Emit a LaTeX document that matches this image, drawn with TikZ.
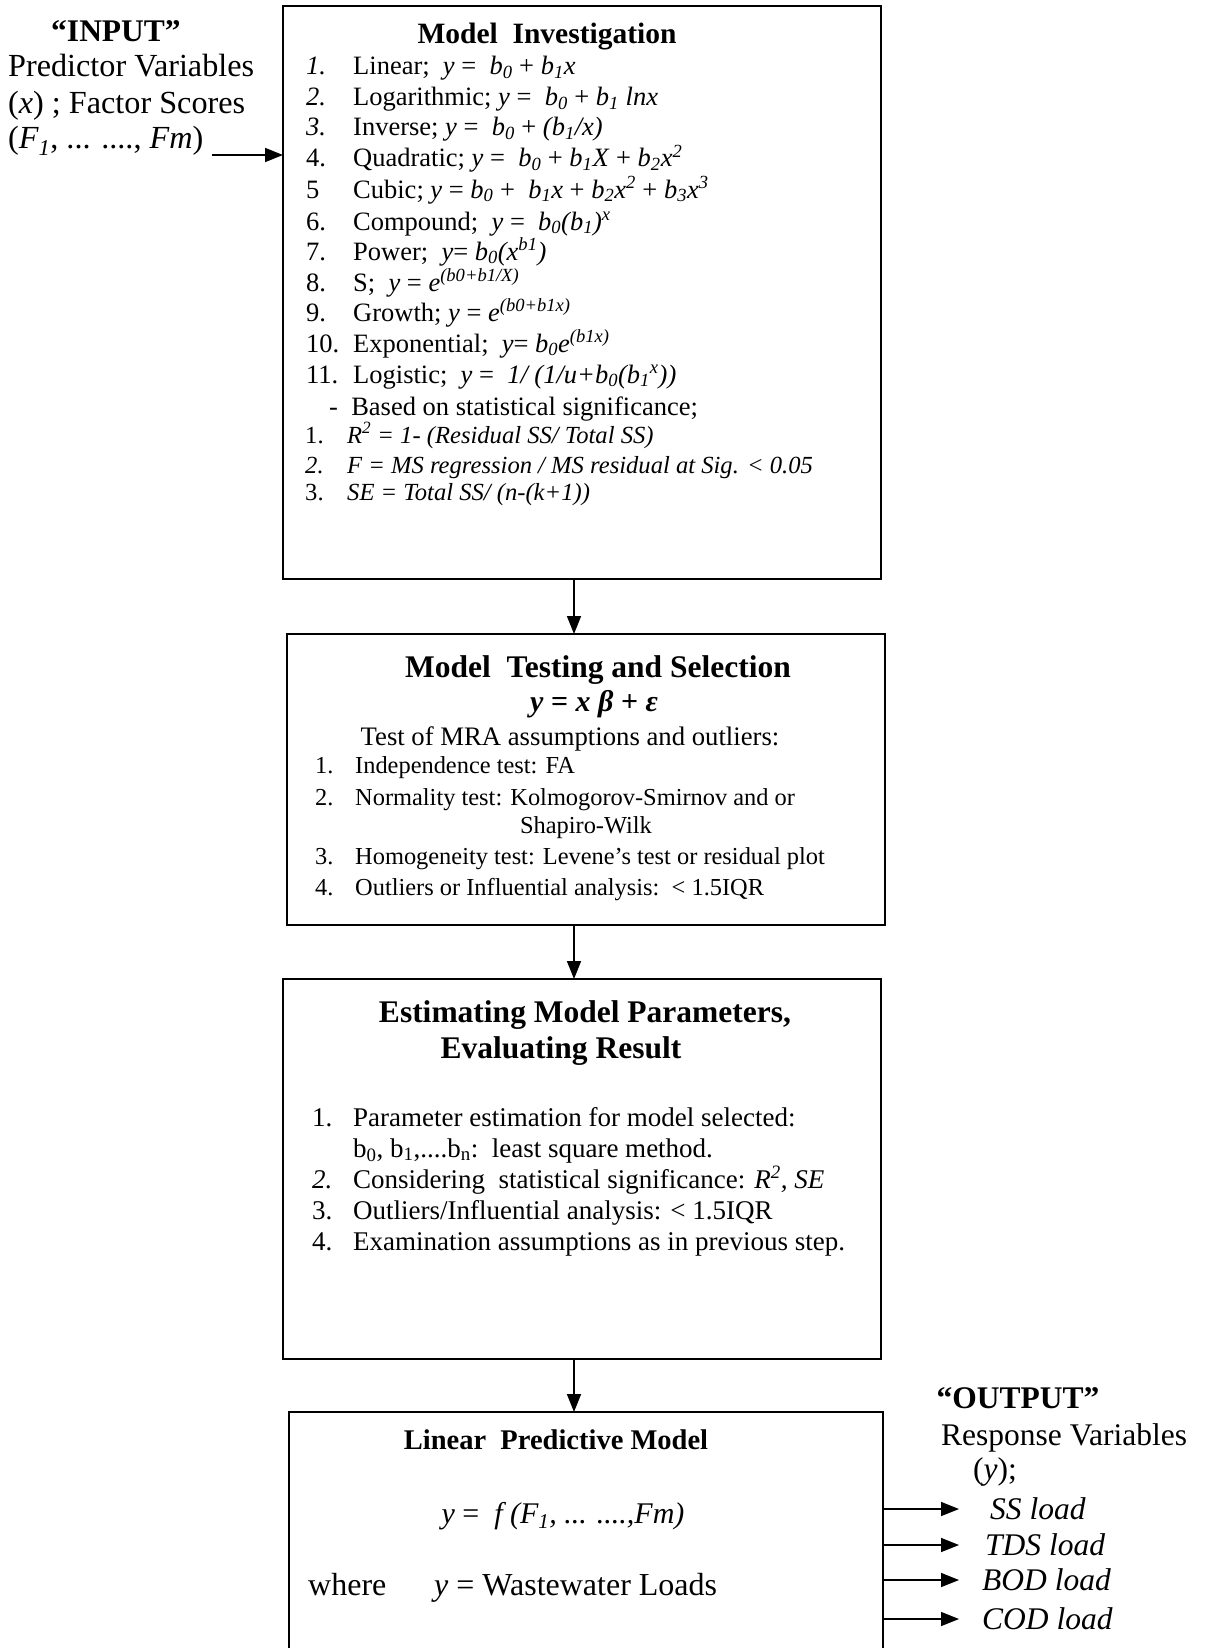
\documentclass[tikz,border=0pt]{standalone}
\usepackage{fontspec}
\setmainfont{Liberation Serif}
\usetikzlibrary{arrows.meta}
\newcommand{\sbs}[1]{\textsubscript{#1}}
\newcommand{\sps}[1]{\textsuperscript{#1}}
\begin{document}
\begin{tikzpicture}[x=1pt,y=-1pt,
  box/.style={draw, line width=1.6pt, anchor=north west, inner sep=0pt, outer sep=0pt},
  arr/.style={line width=1.6pt, -{Triangle[length=18pt,width=14pt]}},
  tl/.style={anchor=base west, inner sep=0pt},
  tc/.style={anchor=base, inner sep=0pt},
  fTa/.style={font=\fontsize{29.5}{32}\selectfont\bfseries},
  fTb/.style={font=\fontsize{31.5}{34}\selectfont\bfseries},
  fA/.style={font=\fontsize{26.5}{30}\selectfont},
  fS/.style={font=\fontsize{24.6}{28}\selectfont},
  fB/.style={font=\fontsize{24.4}{28}\selectfont},
  fB2/.style={font=\fontsize{26.7}{30}\selectfont},
  fC/.style={font=\fontsize{27}{30}\selectfont},
  fD/.style={font=\fontsize{30}{34}\selectfont},
  fW/.style={font=\fontsize{32}{34}\selectfont},
  fL/.style={font=\fontsize{31.5}{36}\selectfont},
  fI/.style={font=\fontsize{32.2}{36}\selectfont},
]
\useasboundingbox (0,0) rectangle (1206,1648);
\clip (0,0) rectangle (1206,1648);

% boxes
\node[box, minimum width=598pt, minimum height=573pt] (b1) at (283,6) {};
\node[box, minimum width=598pt, minimum height=291pt] (b2) at (287,634) {};
\node[box, minimum width=598pt, minimum height=380pt] (b3) at (283,979) {};
\node[box, minimum width=594pt, minimum height=320pt] (b4) at (289,1412) {};

% vertical arrows
\coordinate (ax) at (574,0);
\draw[arr] (b1.south -| ax) -- (b2.north -| ax);
\draw[arr] (b2.south -| ax) -- (b3.north -| ax);
\draw[arr] (b3.south -| ax) -- (b4.north -| ax);

% input
\node[tc, font=\fontsize{31.5}{36}\selectfont\bfseries] (inT) at (116,42) {“INPUT”};
\node[tl, fI] (in1) at (8,77) {Predictor Variables};
\node[tl, fI] (in2) at (8,114) {(\textit{x}) ; Factor Scores};
\node[tl, fI] (in3) at (8,149) {(\textit{F\sbs{1}}, ... ...., \textit{Fm})};
\coordinate (inA) at (212,155);
\draw[arr] (inA) -- (inA -| b1.west);

% box 1
\node[tc, fTa] (t1) at (547,44) {Model\ \ Investigation};
\node[tl, fA] (n1) at (306,75) {\textit{1.}};
\node[tl, fA] (l1) at (353,75) {Linear;\ \ \textit{y} =\ \ \textit{b\sbs{0}} + \textit{b\sbs{1}x}};
\node[tl, fA] (n2) at (306,106) {\textit{2.}};
\node[tl, fA] (l2) at (353,106) {Logarithmic; \textit{y} =\ \ \textit{b\sbs{0}} + \textit{b\sbs{1} lnx}};
\node[tl, fA] (n3) at (306,136) {\textit{3.}};
\node[tl, fA] (l3) at (353,136) {Inverse; \textit{y} =\ \ \textit{b\sbs{0}} + \textit{(b\sbs{1}/x)}};
\node[tl, fA] (n4) at (306,167) {4.};
\node[tl, fA] (l4) at (353,167) {Quadratic; \textit{y} =\ \ \textit{b\sbs{0}} + \textit{b\sbs{1}X} + \textit{b\sbs{2}x\sps{2}}};
\node[tl, fA] (n5) at (306,198) {5};
\node[tl, fA] (l5) at (353,198) {Cubic; \textit{y} = \textit{b\sbs{0}} +\ \ \textit{b\sbs{1}x} + \textit{b\sbs{2}x\sps{2}} + \textit{b\sbs{3}x\sps{3}}};
\node[tl, fA] (n6) at (306,230) {6.};
\node[tl, fA] (l6) at (353,230) {Compound;\ \ \textit{y} =\ \ \textit{b\sbs{0}(b\sbs{1})\sps{x}}};
\node[tl, fA] (n7) at (306,260) {7.};
\node[tl, fA] (l7) at (353,260) {Power;\ \ \textit{y}= \textit{b\sbs{0}(x\sps{b1})}};
\node[tl, fA] (n8) at (306,291) {8.};
\node[tl, fA] (l8) at (353,291) {S;\ \ \textit{y} = \textit{e\sps{(b0+b1/X)}}};
\node[tl, fA] (n9) at (306,321) {9.};
\node[tl, fA] (l9) at (353,321) {Growth; \textit{y} = \textit{e\sps{(b0+b1x)}}};
\node[tl, fA] (n10) at (306,352) {10.};
\node[tl, fA] (l10) at (353,352) {Exponential;\ \ \textit{y}= \textit{b\sbs{0}e\sps{(b1x)}}};
\node[tl, fA] (n11) at (306,383) {11.};
\node[tl, fA] (l11) at (353,383) {Logistic;\ \ \textit{y} =\ \ \textit{1/ (1/u+b\sbs{0}(b\sbs{1}\sps{x}))}};
\node[tl, fA] (bd) at (329,415) {-\ \ Based on statistical significance;};
\node[tl, fS] (s1n) at (305,443) {1.};
\node[tl, fS] (s1) at (347,443) {\textit{R\sps{2} = 1- (Residual SS/ Total SS)}};
\node[tl, fS] (s2n) at (305,473) {\textit{2.}};
\node[tl, fS] (s2) at (347,473) {\textit{F = MS regression / MS residual at Sig. < 0.05}};
\node[tl, fS] (s3n) at (305,500) {3.};
\node[tl, fS] (s3) at (347,500) {\textit{SE = Total SS/ (n-(k+1))}};

% box 2
\node[tc, fTb] (t2) at (598,677) {Model\ \ Testing and Selection};
\node[tc, font=\fontsize{30}{34}\selectfont\bfseries\itshape] (e2) at (594,711) {y = x β + ε};
\node[tc, fB2] (m2) at (570,745) {Test of MRA assumptions and outliers:};
\node[tl, fB] (p1n) at (315,773) {1.};
\node[tl, fB] (p1) at (355,773) {Independence test: FA};
\node[tl, fB] (p2n) at (315,805) {2.};
\node[tl, fB] (p2) at (355,805) {Normality test: Kolmogorov-Smirnov and or};
\node[tc, fB] (p2b) at (586,833) {Shapiro-Wilk};
\node[tl, fB] (p3n) at (315,864) {3.};
\node[tl, fB] (p3) at (355,864) {Homogeneity test: Levene’s test or residual plot};
\node[tl, fB] (p4n) at (315,895) {4.};
\node[tl, fB] (p4) at (355,895) {Outliers or Influential analysis:\ \ < 1.5IQR};

% box 3
\node[tc, fTb] (t3a) at (585,1022) {Estimating Model Parameters,};
\node[tc, fTb] (t3b) at (561,1058) {Evaluating Result};
\node[tl, fC] (q1n) at (312,1126) {1.};
\node[tl, fC] (q1) at (353,1126) {Parameter estimation for model selected:};
\node[tl, fC] (q1b) at (353,1157) {b\sbs{0}, b\sbs{1},....b\sbs{n}:\ \ least square method.};
\node[tl, fC] (q2n) at (312,1188) {\textit{2.}};
\node[tl, fC] (q2) at (353,1188) {Considering\ \ statistical significance: \textit{R\sps{2}, SE}};
\node[tl, fC] (q3n) at (312,1219) {3.};
\node[tl, fC] (q3) at (353,1219) {Outliers/Influential analysis: < 1.5IQR};
\node[tl, fC] (q4n) at (312,1250) {4.};
\node[tl, fC] (q4) at (353,1250) {Examination assumptions as in previous step.};

% box 4
\node[tc, font=\fontsize{28.5}{32}\selectfont\bfseries] (t4) at (556,1449) {Linear\ \ Predictive Model};
\node[tc, fD] (e4) at (563,1523) {\textit{y} =\ \ \textit{f (F\sbs{1}, ... ....,Fm)}};
\node[tl, fW] (w4) at (308,1595) {where};
\node[tl, fW] (w4b) at (434,1595) {\textit{y} = Wastewater Loads};

% output
\node[tc, font=\fontsize{31.5}{36}\selectfont\bfseries] (outT) at (1018,1408) {“OUTPUT”};
\node[tl, fL] (o1) at (941,1445) {Response Variables};
\node[tl, fL] (o2) at (973,1479) {(\textit{y});};
\coordinate (r1) at (959,1509);
\coordinate (r2) at (959,1545);
\coordinate (r3) at (959,1580);
\coordinate (r4) at (959,1619);
\draw[arr] (r1 -| b4.east) -- (r1);
\draw[arr] (r2 -| b4.east) -- (r2);
\draw[arr] (r3 -| b4.east) -- (r3);
\draw[arr] (r4 -| b4.east) -- (r4);
\node[tl, fL] (y1) at (990,1519) {\textit{SS load}};
\node[tl, fL] (y2) at (985,1555) {\textit{TDS load}};
\node[tl, fL] (y3) at (982,1590) {\textit{BOD load}};
\node[tl, fL] (y4) at (982,1629) {\textit{COD load}};
\end{tikzpicture}
\end{document}
